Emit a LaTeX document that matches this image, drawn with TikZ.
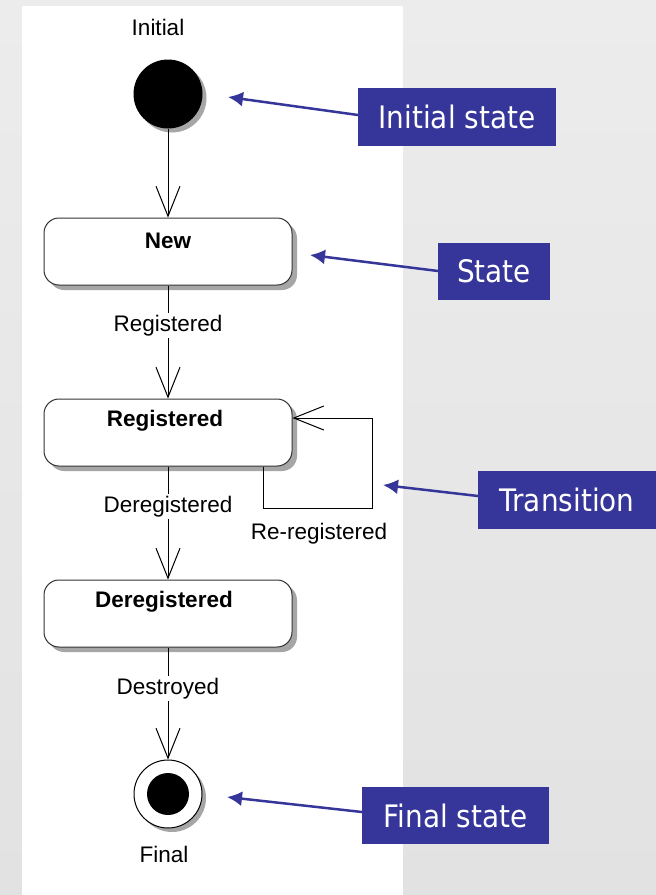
\documentclass[tikz,border=0pt]{standalone}
\usepackage{fontspec}
\setmainfont{Liberation Sans}
\newfontfamily\calloutfont[FakeStretch=0.9]{DejaVu Sans}
\usetikzlibrary{arrows.meta,shadows}

\definecolor{calloutblue}{HTML}{35359A}
\definecolor{shadowgray}{HTML}{A6A6A6}
\definecolor{bgtop}{HTML}{ECECEC}
\definecolor{bgbottom}{HTML}{E2E2E2}

\tikzset{
  umlfont/.style={font=\fontsize{22.5}{25}\selectfont},
  statebox/.style={draw=black!80, line width=1pt, rounded corners=15pt, fill=white,
    minimum width=248pt, minimum height=67pt, inner sep=0pt,
    drop shadow={shadow xshift=5pt, shadow yshift=-5pt, fill=shadowgray, opacity=1}},
  statename/.style={font=\bfseries\fontsize{22.5}{25}\selectfont, inner sep=0pt},
  trans/.style={line width=1pt, -{Straight Barb[length=30pt,width=24pt]}},
  translabel/.style={umlfont, fill=white, inner sep=2pt},
  callout/.style={fill=calloutblue, text=white, inner sep=0pt,
    font=\calloutfont\fontsize{31}{34}\selectfont},
  pointer/.style={draw=calloutblue, line width=2.5pt, -{Latex[length=15pt,width=15pt]}},
}

\begin{document}
\begin{tikzpicture}[x=1pt, y=-1pt]
  \useasboundingbox (0,0) rectangle (656,895);
  % page background and the white drawing sheet
  \shade[top color=bgtop, bottom color=bgbottom] (0,0) rectangle (656,895);
  \fill[white] (22,6) rectangle (403,895);

  % pseudostates
  \node[umlfont] (initlabel) at (158,27) {Initial};
  \node[circle, fill=black, minimum size=69pt, inner sep=0pt,
        drop shadow={shadow xshift=4pt, shadow yshift=-4pt, fill=shadowgray, opacity=1}]
        (init) at (168,94) {};

  % states
  \node[statebox] (new) at (168,251.5) {};
  \node[statename] (newname) at (168,240.5) {New};
  \node[statebox] (reg) at (168,432.5) {};
  \node[statename] (regname) at (165,420.5) {Registered};
  \node[statebox] (dereg) at (168,613.5) {};
  \node[statename] (deregname) at (164,601.5) {Deregistered};

  % final state
  \node[circle, draw=black, line width=1pt, fill=white, minimum size=68pt, inner sep=0pt,
        drop shadow={shadow xshift=4pt, shadow yshift=-4pt, fill=shadowgray, opacity=1}]
        (final) at (168,794) {};
  \node[circle, fill=black, minimum size=42pt, inner sep=0pt] (finaldot) at (final) {};
  \node[umlfont] (finallabel) at (164,854) {Final};

  % transitions
  \draw[trans] (init) -- (new);
  \draw[trans] (new) -- node[translabel, pos=0.355] (l1) {Registered} (reg);
  \draw[trans] (reg) -- node[translabel, pos=0.355] (l2) {Deregistered} (dereg);
  \draw[trans] (dereg) -- node[translabel, pos=0.365] (l3) {Destroyed} (final);
  \draw[trans] ([xshift=95pt]reg.south) |- (372,508) |- ([yshift=14.5pt]reg.east);
  \node[umlfont] (l4) at (319,533.5) {Re-registered};

  % explanatory callouts
  \node[callout, minimum width=198pt, minimum height=58pt] (cinit) at (457,117) {Initial state};
  \node[callout, minimum width=112pt, minimum height=57pt] (cstate) at (494,271) {State};
  \node[callout, minimum width=178pt, minimum height=58pt] (ctrans) at (567,500) {Transition};
  \node[callout, minimum width=187pt, minimum height=57pt] (cfinal) at (455.5,815.5) {Final state};

  \coordinate (pinit) at (228,97);
  \coordinate (pstate) at (310,255);
  \coordinate (ptrans) at (383,485);
  \coordinate (pfinal) at (227,797);
  \coordinate (sinit) at (358,115);
  \coordinate (sstate) at (438,271);
  \coordinate (strans) at (478,496);
  \coordinate (sfinal) at (362,812);

  \draw[pointer] (sinit) -- (pinit);
  \draw[pointer] (sstate) -- (pstate);
  \draw[pointer] (strans) -- (ptrans);
  \draw[pointer] (sfinal) -- (pfinal);
\end{tikzpicture}
\end{document}
